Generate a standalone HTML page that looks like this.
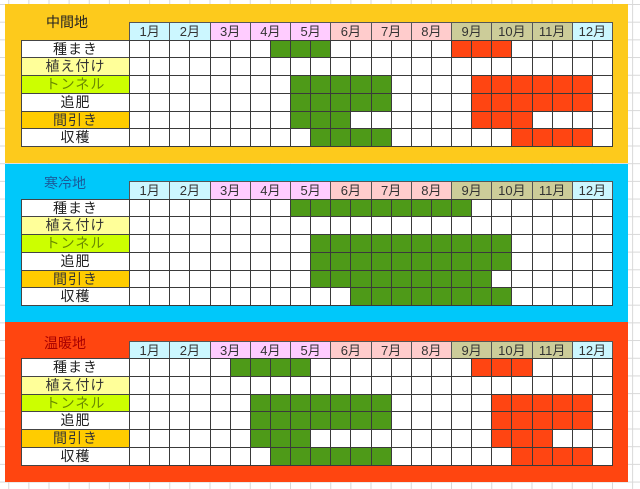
<!DOCTYPE html>
<html><head><meta charset="utf-8">
<style>
html,body{margin:0;padding:0;}
body{width:640px;height:489px;position:relative;overflow:hidden;background:#fff;
background-image:linear-gradient(to right,#d8d8d8 1px,transparent 1px),linear-gradient(to bottom,#d8d8d8 1px,transparent 1px);
background-size:20.125px 17.7px;background-position:8.25px 4px;
font-family:"Liberation Sans","Noto Sans CJK JP",sans-serif;}
.sec{position:absolute;left:5px;width:623px;}
.c{position:absolute;box-sizing:border-box;}
.t{position:absolute;font-size:14px;text-align:center;width:80px;line-height:18px;}
.lab{position:absolute;box-sizing:border-box;border:1px solid #444;font-size:14px;text-align:center;letter-spacing:1px;color:#222;}
.mh{position:absolute;box-sizing:border-box;border:1px solid #555;font-size:13px;text-align:center;color:#333;}
</style></head><body>
<div class="sec" style="top:4px;height:159px;background:#fdca1c;"></div>
<div class="sec" style="top:164px;height:158px;background:#00c8fa;"></div>
<div class="sec" style="top:322px;height:160px;background:#ff4510;"></div>
<div class="t" style="left:27px;top:13px;color:#222;">中間地</div>
<div class="t" style="left:25px;top:174px;color:#1a5a9a;">寒冷地</div>
<div class="t" style="left:25px;top:334px;color:#a80000;">温暖地</div>
<div id="g"></div>
<script>
var X0=129,CW=20.125;
var secs=[
 {ht:22,rt:39.5,rh:17.75,d:[
  {g:[7,9],r:[16,18]},{},{g:[8,12],r:[17,22]},{g:[8,12],r:[17,22]},{g:[8,10],r:[17,19]},{g:[9,12],r:[19,22]}]},
 {ht:181,rt:198.5,rh:17.75,d:[
  {g:[8,16]},{},{g:[9,18]},{g:[9,18]},{g:[9,17]},{g:[11,18]}]},
 {ht:341,rt:358,rh:17.75,d:[
  {g:[5,8],r:[17,19]},{},{g:[6,12],r:[18,22]},{g:[6,12],r:[18,22]},{g:[6,8],r:[18,20]},{g:[7,12],r:[19,22]}]}
];
var labels=["種まき","植え付け","トンネル","追肥","間引き","収穫"];
var lcol=["#fff","#ffff99","#ccff00","#fff","#ffcc00","#fff"];
var tcol=["#222","#333","#6a8a00","#222","#333","#222"];
var mcol=["#ccf7ff","#ccf7ff","#ffccff","#ffccff","#ffccff","#ffcccc","#ffcccc","#ffcccc","#cccc99","#cccc99","#cccc99","#ccf7ff"];
var h="";
secs.forEach(function(s){
 for(var m=0;m<12;m++){
  h+='<div class="mh" style="left:'+(X0+m*2*CW)+'px;top:'+s.ht+'px;width:'+(2*CW+1)+'px;height:'+(s.rt-s.ht+1)+'px;line-height:'+(s.rt-s.ht)+'px;background:'+mcol[m]+'">'+(m+1)+'月</div>';
 }
 for(var r=0;r<6;r++){
  var y=s.rt+r*s.rh;
  h+='<div class="lab" style="left:21px;top:'+y+'px;width:'+(X0-21+1)+'px;height:'+(s.rh+1)+'px;line-height:'+s.rh+'px;background:'+lcol[r]+';color:'+tcol[r]+'">'+labels[r]+'</div>';
  var d=s.d[r];
  for(var k=0;k<24;k++){
   var bg="#fff";
   if(d.g&&k>=d.g[0]&&k<=d.g[1])bg="#4e9a18";
   if(d.r&&k>=d.r[0]&&k<=d.r[1])bg="#ff4512";
   h+='<div class="c" style="left:'+(X0+k*CW)+'px;top:'+y+'px;width:'+(CW+1)+'px;height:'+(s.rh+1)+'px;background:'+bg+';border:1px solid #3a3a3a"></div>';
  }
 }
});
document.getElementById("g").innerHTML=h;
</script>
</body></html>
